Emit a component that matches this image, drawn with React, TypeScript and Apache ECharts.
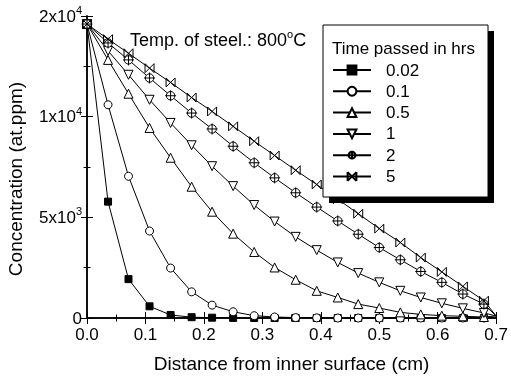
import React, { useEffect, useRef } from 'react';
import * as echarts from 'echarts';

const distances = [0, 0.036, 0.071, 0.107, 0.143, 0.179, 0.214, 0.25, 0.286, 0.321, 0.357, 0.393, 0.429, 0.464, 0.5, 0.536, 0.571, 0.607, 0.643, 0.679];
const endDistance = 0.7;

const seriesNames = ['0.02', '0.1', '0.5', '1', '2', '5'];
const conc002 = [14600, 5780, 1930, 580, 150, 40, 15, 5, 0, 0, 0, 0, 0, 0, 0, 0, 0, 0, 0, 0];
const conc01 = [14600, 10590, 7040, 4320, 2480, 1300, 640, 310, 115, 50, 20, 8, 0, 0, 0, 0, 0, 0, 0, 0];
const conc05 = [14600, 12820, 11140, 9440, 7960, 6520, 5280, 4190, 3280, 2510, 1900, 1350, 1020, 690, 495, 280, 180, 115, 85, 50];
const conc1 = [14600, 13270, 12080, 10840, 9690, 8580, 7540, 6550, 5610, 4790, 4030, 3370, 2760, 2230, 1770, 1350, 1020, 730, 480, 250];
const conc2 = [14600, 13660, 12820, 11920, 11040, 10180, 9390, 8530, 7710, 6960, 6220, 5510, 4820, 4160, 3500, 2890, 2310, 1770, 1190, 690];
const conc5 = [14600, 13850, 13150, 12410, 11700, 10950, 10260, 9520, 8780, 8070, 7340, 6630, 5900, 5180, 4440, 3750, 3000, 2290, 1570, 860];
const endValues = [0, 0, 100, 100, 100, 100];

const yTickValues = [0, 5000, 10000, 15000];
const yTickLabels = ['0', '5x10^3', '1x10^4', '2x10^4'];

const FONT = '"Liberation Sans", Arial, sans-serif';

const plusCircle = 'path://M0,-10 A10,10 0 1,1 0,10 A10,10 0 1,1 0,-10 Z M-13,0 L13,0 M0,-13 L0,13';
const bowtie = 'path://M-10,-10 L10,10 M-10,10 L10,-10 M-10,-10 L-10,10 M10,-10 L10,10';

const markerDefs = [
  { symbol: 'rect', size: 7, rotate: 0, fill: '#000' },
  { symbol: 'circle', size: 8, rotate: 0, fill: '#fff' },
  { symbol: 'triangle', size: 9, rotate: 0, fill: '#fff' },
  { symbol: 'triangle', size: 9, rotate: 180, fill: '#fff' },
  { symbol: plusCircle, size: 11, rotate: 0, fill: '#fff' },
  { symbol: bowtie, size: 9, rotate: 0, fill: '#fff' },
];

function yLabel(v: number): string {
  const i = yTickValues.indexOf(v);
  if (i < 0) return '';
  const t = yTickLabels[i];
  if (t.indexOf('^') < 0) return `{b|${t}}`;
  const [base, exp] = t.split('^');
  return `{b|${base}}{s|${exp}}`;
}

export default function App() {
  const ref = useRef<HTMLDivElement>(null);
  useEffect(() => {
    if (!ref.current) return;
    const chart = echarts.init(ref.current, undefined, { renderer: 'svg' });
    const allConc = [conc002, conc01, conc05, conc1, conc2, conc5];
    const series = allConc.map((vals, si) => {
      const m = markerDefs[si];
      const data: any[] = distances.map((d, i) => [d, vals[i]]);
      data.push({ value: [endDistance, endValues[si]], symbol: 'none' });
      return {
        name: seriesNames[si],
        type: 'line',
        data,
        symbol: m.symbol,
        symbolSize: m.size,
        symbolRotate: m.rotate,
        showAllSymbol: true,
        lineStyle: { color: '#000', width: 1 },
        itemStyle: { color: m.fill, borderColor: '#000', borderWidth: 1 },
        emphasis: { disabled: true },
        z: 2 + si * 0.01,
      };
    });
    const axisCommonX = {
      type: 'value',
      min: 0,
      max: 0.7,
      interval: 0.1,
      axisLine: { lineStyle: { color: '#000', width: 1.5 } },
      axisTick: { inside: true, length: 6, lineStyle: { color: '#000', width: 1 } },
      minorTick: { show: true, splitNumber: 2, length: 3.5, lineStyle: { color: '#000', width: 1 } },
      splitLine: { show: false },
    };
    const axisCommonY = {
      type: 'value',
      min: 0,
      max: 15000,
      interval: 5000,
      axisLine: { lineStyle: { color: '#000', width: 1.5 } },
      axisTick: { inside: true, length: 6, lineStyle: { color: '#000', width: 1 } },
      minorTick: { show: true, splitNumber: 2, length: 3.5, lineStyle: { color: '#000', width: 1 } },
      splitLine: { show: false },
    };
    chart.setOption({
      animation: false,
      grid: { left: 87, right: 13, top: 16, bottom: 59, containLabel: false },
      xAxis: [
        {
          ...axisCommonX,
          position: 'bottom',
          axisLabel: { color: '#000', fontSize: 17, fontFamily: FONT, margin: 8, formatter: (v: number) => v.toFixed(1) },
          name: 'Distance from inner surface (cm)',
          nameLocation: 'middle',
          nameGap: 36,
          nameTextStyle: { color: '#000', fontSize: 19, fontFamily: FONT },
        },
        { ...axisCommonX, position: 'top', axisLabel: { show: false } },
      ],
      yAxis: [
        {
          ...axisCommonY,
          position: 'left',
          axisLabel: {
            color: '#000',
            margin: 5,
            formatter: yLabel,
            rich: {
              b: { fontSize: 17, fontFamily: FONT, color: '#000' },
              s: { fontSize: 11, fontFamily: FONT, color: '#000', padding: [0, 0, 12, 0] },
            },
          },
        },
        { ...axisCommonY, position: 'right', axisLabel: { show: false } },
      ],
      legend: {
        orient: 'vertical',
        left: 332,
        top: 61.5,
        padding: 0,
        itemWidth: 38,
        itemHeight: 11,
        itemGap: 4.3,
        z: 6,
        data: seriesNames,
        textStyle: { color: '#000', fontSize: 17, fontFamily: FONT, padding: [0, 0, 0, 10] },
        selectedMode: false,
      },
      graphic: [
        { type: 'rect', z: 3, shape: { x: 329, y: 31, width: 165, height: 172 }, style: { fill: '#000' } },
        { type: 'rect', z: 4, shape: { x: 323, y: 25, width: 165, height: 172 }, style: { fill: '#fff', stroke: '#000', lineWidth: 1 } },
        {
          type: 'text', z: 6, x: 332, y: 48,
          style: { text: 'Time passed in hrs', fontSize: 17, fontFamily: FONT, fill: '#000', align: 'left', verticalAlign: 'middle' },
        },
        {
          type: 'text', z: 6, x: 130, y: 40,
          style: {
            text: '{b|Temp. of steel.: 800}{s|o}{b|C}',
            align: 'left',
            verticalAlign: 'middle',
            rich: {
              b: { fontSize: 18, fontFamily: FONT, fill: '#000' },
              s: { fontSize: 11, fontFamily: FONT, fill: '#000', padding: [0, 0, 12, 0] },
            },
          },
        },
        {
          type: 'text', z: 6, x: 15, y: 179, rotation: Math.PI / 2,
          style: { text: 'Concentration (at.ppm)', fontSize: 19, fontFamily: FONT, fill: '#000', align: 'center', verticalAlign: 'middle' },
        },
      ],
      series,
    });
    return () => chart.dispose();
  }, []);
  return <div ref={ref} style={{ position: 'fixed', left: 0, top: 0, width: 511, height: 378 }} />;
}
